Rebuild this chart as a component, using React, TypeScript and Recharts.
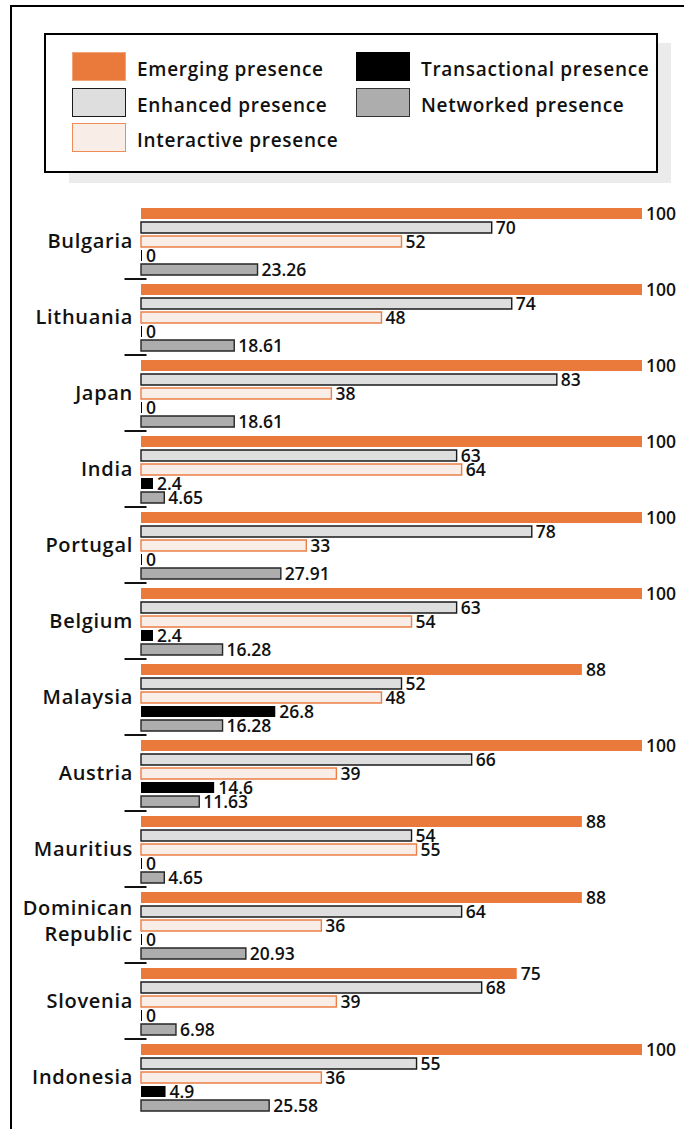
import React from 'react';
import { BarChart, Bar, XAxis, YAxis, LabelList } from 'recharts';

const countries = [
  'Bulgaria',
  'Lithuania',
  'Japan',
  'India',
  'Portugal',
  'Belgium',
  'Malaysia',
  'Austria',
  'Mauritius',
  'Dominican Republic',
  'Slovenia',
  'Indonesia',
];

const emerging = [100, 100, 100, 100, 100, 100, 88, 100, 88, 88, 75, 100];
const enhanced = [70, 74, 83, 63, 78, 63, 52, 66, 54, 64, 68, 55];
const interactive = [52, 48, 38, 64, 33, 54, 48, 39, 55, 36, 39, 36];
const transactional = [0, 0, 0, 2.4, 0, 2.4, 26.8, 14.6, 0, 0, 0, 4.9];
const networked = [23.26, 18.61, 18.61, 4.65, 27.91, 16.28, 16.28, 11.63, 4.65, 20.93, 6.98, 25.58];

const series = [
  { key: 'emerging', name: 'Emerging presence', fill: '#e97a3b', stroke: '#e97a3b', swatchStroke: '#f2a479' },
  { key: 'enhanced', name: 'Enhanced presence', fill: '#dedede', stroke: '#1a1a1a', swatchStroke: '#1a1a1a' },
  { key: 'interactive', name: 'Interactive presence', fill: '#f9ede7', stroke: '#ec7f45', swatchStroke: '#ef8b55' },
  { key: 'transactional', name: 'Transactional presence', fill: '#000000', stroke: '#000000', swatchStroke: '#000000' },
  { key: 'networked', name: 'Networked presence', fill: '#adadad', stroke: '#262626', swatchStroke: '#333333' },
];

const data = countries.map((name, i) => ({
  name,
  emerging: emerging[i],
  enhanced: enhanced[i],
  interactive: interactive[i],
  transactional: transactional[i],
  networked: networked[i],
}));

const FONT = '"Open Sans", sans-serif';
const W = 684;
const H = 1129;
const MARGIN = { top: 203, right: 42, bottom: 14, left: 0 };
const BAND = (H - MARGIN.top - MARGIN.bottom) / countries.length;

// legend layout: 3 rows in first column, 2 in second
const legendCols = [72, 356];
const legendRows = [52, 87.5, 123];

const TICK_SIZE = 20;
const TICK_LH = 26;

function CountryTick(props: any) {
  const { x, y, payload, index } = props;
  const last = index === countries.length - 1;
  // multi-word names go on separate lines
  const lines = String(payload.value).split(' ');
  const n = lines.length;
  return (
    <g>
      <text
        textAnchor="end"
        fill="#111"
        fontSize={TICK_SIZE}
        fontWeight={600}
        fontFamily={FONT}
        letterSpacing={0.7}
      >
        {lines.map((l, i) => (
          <tspan key={i} x={x} y={y + TICK_SIZE * 0.355 + (i - (n - 1) / 2) * TICK_LH - (n > 1 ? 4 : 0)}>
            {l}
          </tspan>
        ))}
      </text>
      {!last && (
        <line x1={x - 8.5} x2={x + 13.5} y1={y + BAND / 2} y2={y + BAND / 2} stroke="#111" strokeWidth={2} />
      )}
    </g>
  );
}

export default function App() {
  return (
    <div
      style={{
        position: 'absolute',
        left: 0,
        top: 0,
        width: W,
        height: H,
        overflow: 'hidden',
        background: '#fff',
        fontFamily: FONT,
      }}
    >
      {/* outer frame, runs off the right and bottom edges */}
      <div
        style={{
          position: 'absolute',
          left: 10,
          top: 5,
          width: 900,
          height: 1400,
          border: '2px solid #000',
        }}
      />

      {/* legend shadow + box */}
      <div style={{ position: 'absolute', left: 69, top: 43, width: 602, height: 140, background: '#ebebeb' }} />
      <div
        style={{
          position: 'absolute',
          left: 44,
          top: 33,
          width: 610,
          height: 136,
          border: '2px solid #000',
          background: '#fff',
        }}
      />
      {series.map((s, i) => {
        const col = i < 3 ? 0 : 1;
        const row = i < 3 ? i : i - 3;
        return (
          <div
            key={s.key}
            style={{
              position: 'absolute',
              left: legendCols[col],
              top: legendRows[row],
              height: 29,
              display: 'flex',
              alignItems: 'center',
            }}
          >
            <div
              style={{
                width: 52,
                height: 27,
                background: s.fill,
                border: `1.5px solid ${s.swatchStroke}`,
              }}
            />
            <span
              style={{
                marginLeft: 11,
                paddingTop: 5,
                fontSize: 19,
                fontWeight: 600,
                letterSpacing: 0.7,
                color: '#111',
                whiteSpace: 'nowrap',
              }}
            >
              {s.name}
            </span>
          </div>
        );
      })}

      <div style={{ position: 'absolute', left: 0, top: 0 }}>
        <BarChart
          width={W}
          height={H}
          data={data}
          layout="vertical"
          margin={MARGIN}
          barSize={11}
          barGap={3}
          barCategoryGap={0}
        >
          <XAxis type="number" domain={[0, 100]} hide />
          <YAxis
            type="category"
            dataKey="name"
            width={141}
            axisLine={false}
            tickLine={false}
            interval={0}
            tick={<CountryTick />}
          />
          {series.map((s) => (
            <Bar
              key={s.key}
              dataKey={s.key}
              name={s.name}
              fill={s.fill}
              stroke={s.key === 'emerging' || s.key === 'transactional' ? 'none' : s.stroke}
              strokeWidth={1.4}
              minPointSize={s.key === 'transactional' ? 1 : 0}
              isAnimationActive={false}
            >
              <LabelList
                dataKey={s.key}
                position="right"
                offset={4}
                fill="#111"
                fontSize={17.5}
                fontWeight={600}
                fontFamily={FONT}
              />
            </Bar>
          ))}
        </BarChart>
      </div>
    </div>
  );
}
